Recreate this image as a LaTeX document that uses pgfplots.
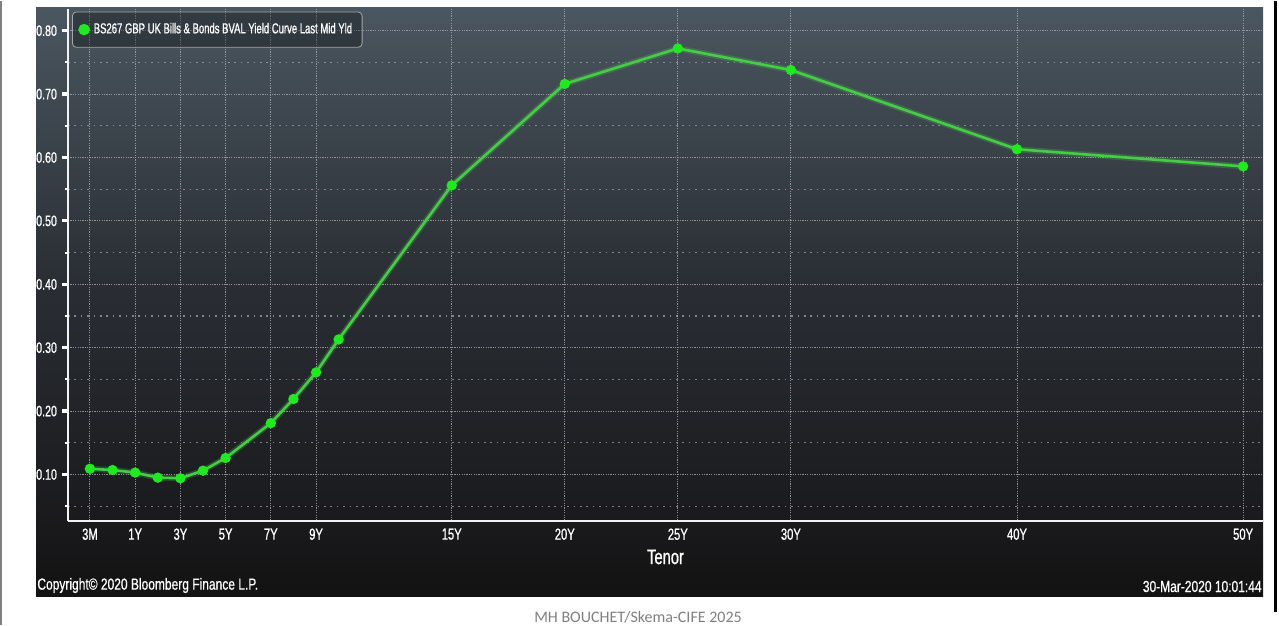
\documentclass[border=0pt]{standalone}
\usepackage{fontspec}
\setmainfont[FakeStretch=0.78]{Liberation Sans}
\newfontfamily\bb[FakeStretch=0.7,FakeBold=0.8]{Liberation Sans}
\newfontfamily\bbl[FakeStretch=0.66,FakeBold=0.8]{Liberation Sans}
\newfontfamily\bbc[FakeStretch=0.75,FakeBold=0.6]{Liberation Sans}
\newfontfamily\wmfont{Carlito}
\usepackage{pgfplots}
\pgfplotsset{compat=1.18}
\definecolor{bbtop}{RGB}{74,86,96}
\definecolor{bbmid}{RGB}{42,46,52}
\definecolor{bblow}{RGB}{26,26,29}
\definecolor{bbbot}{RGB}{18,18,18}
\definecolor{lgreen}{RGB}{70,205,70}
\definecolor{mgreen}{RGB}{30,235,30}
\definecolor{gridc}{RGB}{165,170,176}
\begin{document}
\begin{tikzpicture}
\begin{scope}[x=0.5pt,y=-0.5pt]
\useasboundingbox (0,0) rectangle (1279,623);
\fill[white] (0,0) rectangle (1279,623);
\shade[top color=bbtop, bottom color=bbmid] (36,6) rectangle (1263,280);
\shade[top color=bbmid, bottom color=bblow] (36,279.5) rectangle (1263,520);
\shade[top color=bblow, bottom color=bbbot] (36,519.5) rectangle (1263,595);
\end{scope}
\begin{axis}[
  at={(34pt,-259.5pt)}, anchor=south west,
  scale only axis, width=597.5pt, height=256pt,
  xmin=-1.97, xmax=50.88, ymin=0.0274, ymax=0.835,
  axis lines*=left,
  axis line style={white!90!gray, line width=1pt},
  xtick={-1,1,3,5,7,9,15,20,25,30,40,50},
  xticklabels={3M,1Y,3Y,5Y,7Y,9Y,15Y,20Y,25Y,30Y,40Y,50Y},
  ytick={0.1,0.2,0.3,0.4,0.5,0.6,0.7,0.8},
  yticklabels={0.10,0.20,0.30,0.40,0.50,0.60,0.70,0.80},
  minor ytick={0.05,0.15,0.25,0.35,0.45,0.55,0.65,0.75},
  tick label style={white, font=\bb\fontsize{8}{9}\selectfont},
  x tick label style={yshift=2.5pt},
  y tick label style={font=\bb\fontsize{7.6}{9}\selectfont, xshift=1pt},
  xtick style={draw=none},
  ytick style={white, line width=1.6pt},
  major tick length=3pt, minor tick length=1.5pt,
  tick align=outside,
  minor y tick style={white, line width=1pt},
  xmajorgrids, ymajorgrids, yminorgrids,
  major grid style={gridc, dash pattern=on 0.6pt off 0.6pt, line width=0.5pt, opacity=0.8},
  minor grid style={gridc, dash pattern=on 0.8pt off 2.4pt, line width=0.6pt, opacity=0.7},
  xlabel={Tenor},
  xlabel style={white, font=\bb\fontsize{10.5}{12}\selectfont, yshift=2pt},
  legend style={at={(0,1)}, anchor=north west, xshift=2pt, yshift=-1.5pt,
    fill=black, fill opacity=0.3, text opacity=1, draw=gray!70, rounded corners=2pt,
    text=white, font=\bbl\fontsize{7.2}{8}\selectfont, inner ysep=3.5pt, inner xsep=3pt},
  legend cell align=left,
  legend image code/.code={\fill[mgreen, fill opacity=1] (0.1cm,0cm) circle (2.2pt);},
]
\addplot[forget plot, lgreen, opacity=0.25, line width=3pt] coordinates {
(-1,0.109) (0,0.107) (1,0.103) (2,0.095) (3,0.094) (4,0.106) (5,0.126) (7,0.181) (8,0.219) (9,0.261) (10,0.313) (15,0.556) (20,0.716) (25,0.772) (30,0.738) (40,0.613) (50,0.586)
};
\addplot[lgreen, line width=1.3pt, mark=*, mark size=1.9pt, mark options={fill=mgreen, draw=mgreen}] coordinates {
(-1,0.109) (0,0.107) (1,0.103) (2,0.095) (3,0.094) (4,0.106) (5,0.126) (7,0.181) (8,0.219) (9,0.261) (10,0.313) (15,0.556) (20,0.716) (25,0.772) (30,0.738) (40,0.613) (50,0.586)
};
\addlegendentry{BS267 GBP UK Bills \& Bonds BVAL Yield Curve Last Mid Yld}
\end{axis}
\begin{scope}[x=0.5pt,y=-0.5pt]
\node[anchor=west, inner sep=0, white, font=\bbc\fontsize{8}{9}\selectfont] at (37,584) {Copyright\textcopyright{} 2020 Bloomberg Finance L.P.};
\node[anchor=east, inner sep=0, white, font=\bbc\fontsize{8}{9}\selectfont] at (1262,585) {30-Mar-2020 10:01:44};
\node[inner sep=0, text=gray, font=\wmfont\fontsize{8}{9}\selectfont] at (638,616) {MH BOUCHET/Skema-CIFE 2025};
\draw[gray, line width=1pt] (1,0) -- (1,623);
\draw[black, line width=1.5pt] (1275,0) -- (1275,610);
\end{scope}
\end{tikzpicture}
\end{document}
